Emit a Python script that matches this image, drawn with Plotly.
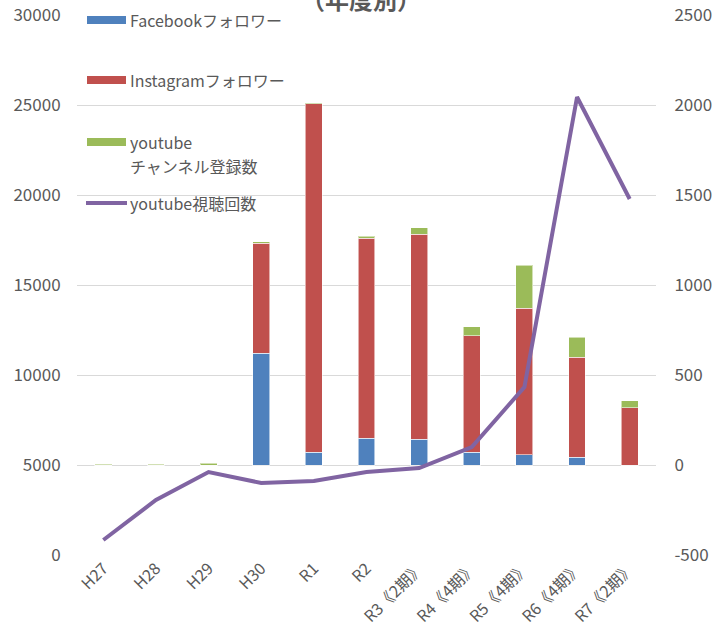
import plotly.graph_objects as go

categories = ["H27", "H28", "H29", "H30", "R1", "R2", "R3《2期》", "R4《4期》", "R5《4期》", "R6《4期》", "R7《2期》"]
facebook = [0, 0, 0, 622, 72, 150, 144, 72, 56, 44, 0]
instagram = [0, 0, 0, 611, 1934, 1111, 1139, 645, 816, 556, 317]
youtube_ch = [3, 3, 10, 6, 5, 11, 34, 50, 239, 111, 39]
youtube_views = [833, 3056, 4611, 4000, 4111, 4611, 4833, 6000, 9333, 25444, 19778]

left_ticks = [0, 5000, 10000, 15000, 20000, 25000, 30000]
right_ticks = [-500, 0, 500, 1000, 1500, 2000, 2500]

names = ["Facebookフォロワー", "Instagramフォロワー", "youtube チャンネル登録数", "youtube視聴回数"]
legend_lines = [["Facebookフォロワー"], ["Instagramフォロワー"], ["youtube", "チャンネル登録数"], ["youtube視聴回数"]]
colors = ["#4F81BD", "#C0504D", "#9BBB59", "#8064A2"]
TXT = "#595959"
FONT = "Noto Sans CJK JP, Noto Sans, sans-serif"

fig = go.Figure()
for vals, nm, col in zip([facebook, instagram, youtube_ch], names[:3], colors[:3]):
    fig.add_trace(go.Bar(x=categories, y=vals, name=nm, yaxis="y",
                         marker=dict(color=col, line=dict(color="rgba(255,255,255,0.55)", width=1)),
                         showlegend=False))
fig.add_trace(go.Scatter(x=categories, y=youtube_views, name=names[3], mode="lines",
                         yaxis="y2", line=dict(color=colors[3], width=4), showlegend=False))

fig.update_layout(
    width=727, height=630,
    margin=dict(l=77, r=71, t=15, b=75),
    paper_bgcolor="white", plot_bgcolor="white",
    barmode="stack", bargap=0.68,
    font=dict(family=FONT, color=TXT, size=16),
    xaxis=dict(tickangle=-45, showgrid=False, showline=False, ticks="", automargin=False,
               tickfont=dict(size=16, color=TXT)),
    yaxis=dict(range=[-500, 2500], tickvals=right_ticks, ticktext=[str(v) for v in right_ticks],
               side="right", showgrid=True, gridcolor="#D9D9D9", gridwidth=1, zeroline=False,
               ticks="outside", ticklen=14, tickcolor="rgba(0,0,0,0)", automargin=False,
               tickfont=dict(size=17, color=TXT)),
    yaxis2=dict(range=[0, 30000], tickvals=left_ticks, ticktext=[str(v) for v in left_ticks],
                overlaying="y", side="left", showgrid=False, zeroline=False,
                ticks="outside", ticklen=12, tickcolor="rgba(0,0,0,0)", automargin=False,
                tickfont=dict(size=17, color=TXT)),
    showlegend=False,
)

# title (partly cut off at top as in the reference)
fig.add_annotation(text="（年度別）", xref="paper", yref="paper", x=0.49, y=1,
                   yanchor="middle", yshift=17, showarrow=False,
                   font=dict(size=24, color=TXT, family=FONT, weight="bold"))

# custom legend
leg_y = [20, 80, 142, 203]
def py(pix):
    return 1 - (pix - 15) / 540.0
for i, (lines, col) in enumerate(zip(legend_lines, colors)):
    yc = py(leg_y[i])
    if i < 3:
        fig.add_shape(type="rect", xref="x domain", yref="paper",
                      x0=(87 - 77) / 579, x1=(126 - 77) / 579,
                      y0=yc - 4 / 540, y1=yc + 4 / 540,
                      fillcolor=col, line=dict(width=0))
    else:
        fig.add_shape(type="line", xref="x domain", yref="paper",
                      x0=(86 - 77) / 579, x1=(127 - 77) / 579, y0=yc, y1=yc,
                      line=dict(color=col, width=4))
    for j, ln in enumerate(lines):
        fig.add_annotation(text=ln, xref="x domain", yref="paper",
                           x=(128 - 77) / 579, y=py(leg_y[i] + 24 * j),
                           xanchor="left", yanchor="middle", align="left", showarrow=False,
                           font=dict(size=16, color=TXT, family=FONT))

fig.write_html("out.html")
